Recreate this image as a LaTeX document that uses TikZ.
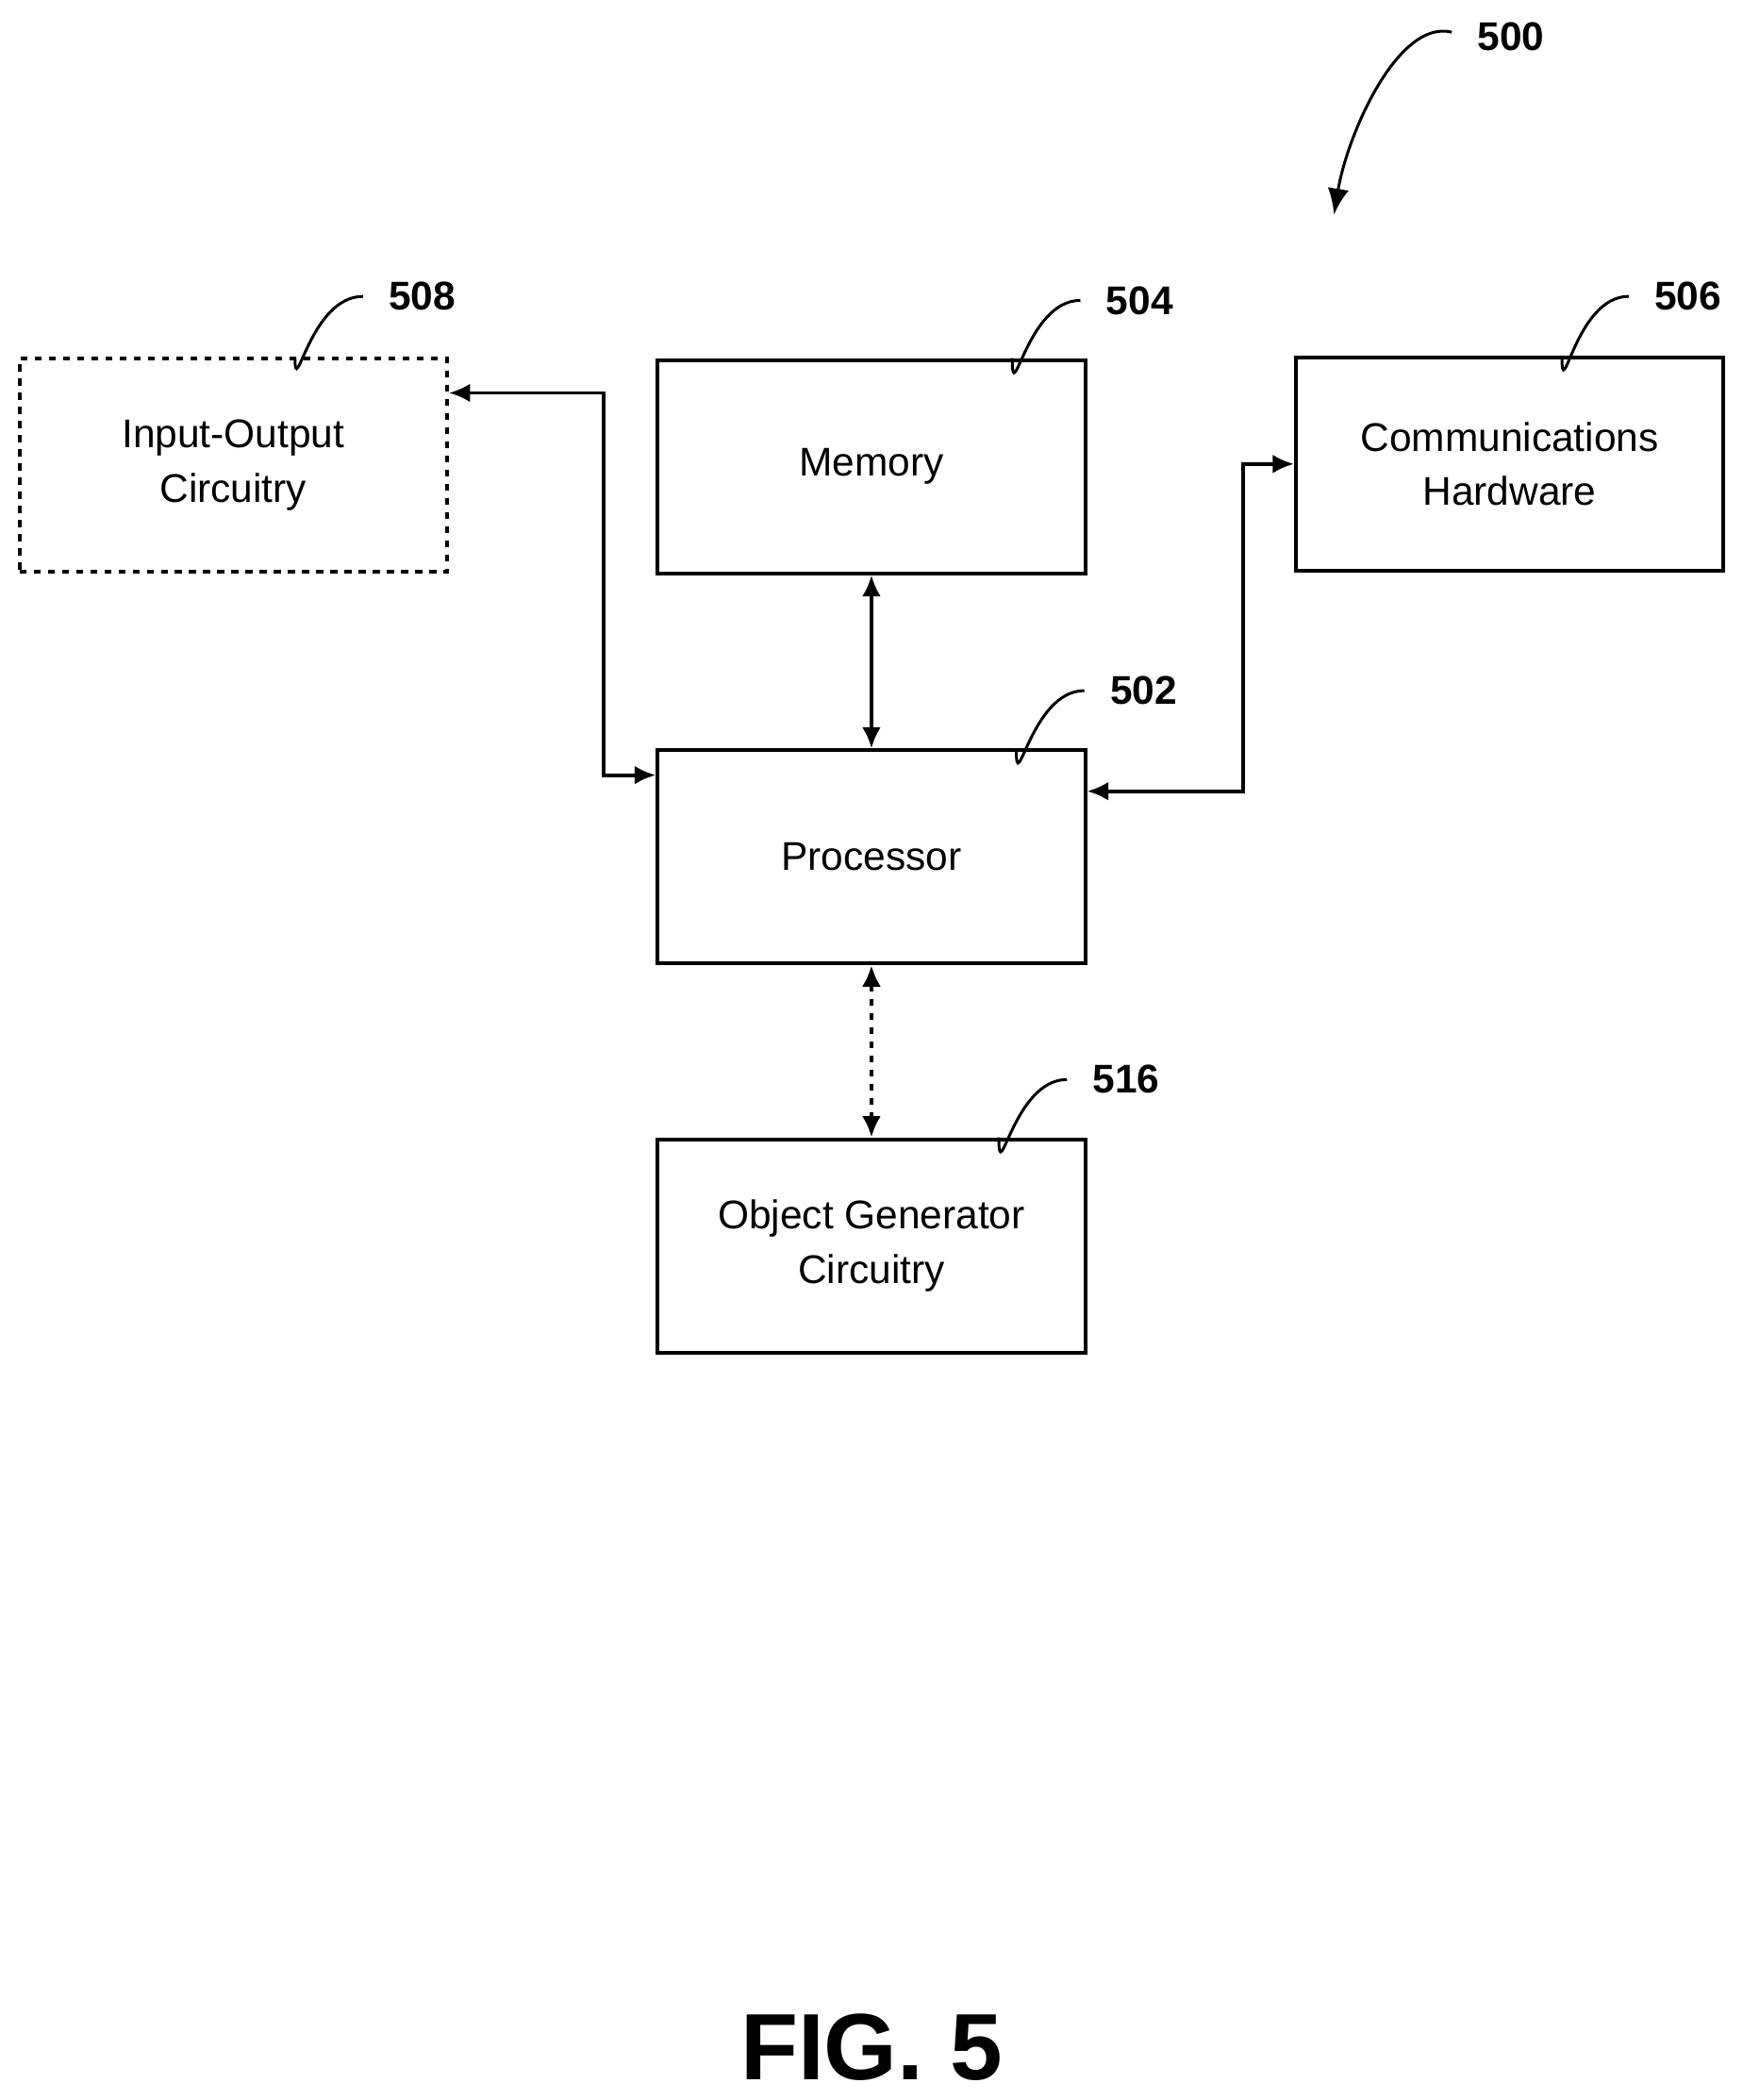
\documentclass[tikz,border=0pt]{standalone}
\usepackage{fontspec}
\setmainfont{Liberation Sans}
\usetikzlibrary{calc,arrows.meta}
\newcommand\XL{174}
\newcommand\XM{650}
\newcommand\XR{1126}
\newcommand\YT{-347}
\newcommand\YP{-639}
\newcommand\YO{-929}

\begin{document}
\begin{tikzpicture}
  [x=0.02cm, y=0.02cm, line width=1.6pt,
   block/.style = {
     draw, rectangle, minimum width=6.38cm, minimum height=3.18cm,
     align=center, font=\fontsize{17}{23}\selectfont, inner sep=0pt
   },
   wire/.style = {
     {Latex[length=9pt,width=8pt]}-{Latex[length=9pt,width=8pt]}
   },
   leader/.style = {
     line width=1.2pt
   },
   refnum/.style = {
     font=\bfseries\fontsize{17}{20}\selectfont
   }]
  \useasboundingbox (0,0) rectangle (1300,-1566);

  \node[block, dashed] at (\XL, \YT) (io) {Input-Output\\Circuitry};
  \node[block] at (\XM, \YT-1) (mem) {Memory};
  \node[block] at (\XR, \YT+1) (comm) {Communications\\Hardware};
  \node[block] at (\XM, \YP) (proc) {Processor};
  \node[block] at (\XM, \YO) (obj) {Object Generator\\Circuitry};

  % Connections.
  \draw[wire] (mem) -- (proc);
  \draw[wire, dashed] (proc) -- (obj);
  \draw[wire] ($(io.east)+(0,54)$) -| ($(proc.west)+(-39,61)$) -- ($(proc.west)+(0,61)$);
  \draw[wire] ($(proc.east)+(0,49)$) -| ($(comm.west)+(-38,0)$) -- (comm.west);

  % Reference numerals.
  \node[refnum] at (315,-221) (n508) {508};
  \node[refnum] at (850,-224) (n504) {504};
  \node[refnum] at (1259,-221) (n506) {506};
  \node[refnum] at (853,-515) (n502) {502};
  \node[refnum] at (840,-805) (n516) {516};
  \node[refnum] at (1127,-27) (n500) {500};

  \draw[leader] ($(io.north)+(46,0)$) .. controls +(0,-35) and +(-40,0) .. ($(n508.west)+(-12,0)$);
  \draw[leader] ($(mem.north)+(105,0)$) .. controls +(0,-40) and +(-40,0) .. ($(n504.west)+(-12,0)$);
  \draw[leader] ($(comm.north)+(39,0)$) .. controls +(0,-40) and +(-40,0) .. ($(n506.west)+(-12,0)$);
  \draw[leader] ($(proc.north)+(108,0)$) .. controls +(0,-40) and +(-40,0) .. ($(n502.west)+(-12,0)$);
  \draw[leader] ($(obj.north)+(95,0)$) .. controls +(0,-40) and +(-40,0) .. ($(n516.west)+(-12,0)$);
  \coordinate (p500) at (995,-160);
  \draw[leader, -{Latex[length=11pt,width=9pt]}] ($(n500.west)+(-12,3)$) .. controls +(-40,10) and +(10,60) .. (p500);

  \node[font=\bfseries\fontsize{40}{44}\selectfont] at (650,-1527) (fig) {FIG. 5};
\end{tikzpicture}
\end{document}
